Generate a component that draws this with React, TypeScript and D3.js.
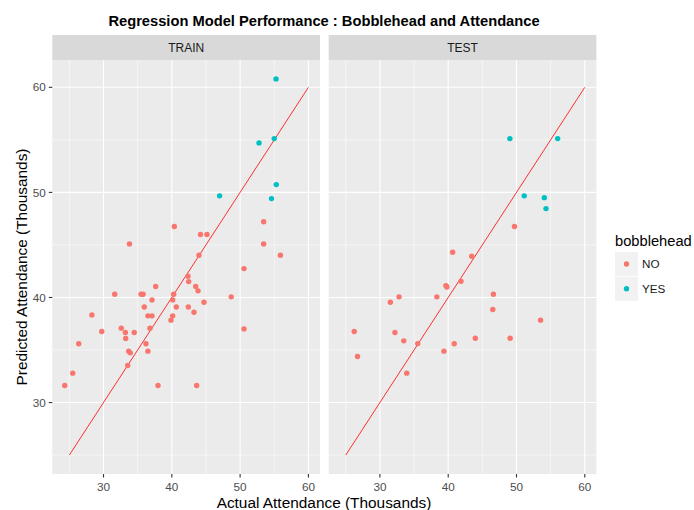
import React from 'react';
import * as d3 from 'd3';

// [actual, predicted] in thousands
const trainNo: [number, number][] = [
  [40.37, 46.75], [44.2, 46.0], [45.15, 46.0], [33.8, 45.1], [53.45, 47.2],
  [53.45, 45.1], [55.9, 44.02], [43.98, 44.02], [50.57, 42.75], [42.37, 42.03],
  [42.47, 41.51], [37.64, 41.04], [43.5, 41.04], [43.84, 40.63], [31.64, 40.31],
  [35.5, 40.31], [35.8, 40.31], [40.27, 40.31], [48.7, 40.06], [37.1, 39.77],
  [40.13, 39.77], [44.71, 39.55], [35.97, 39.1], [40.66, 39.1], [42.42, 39.1],
  [43.25, 38.6], [28.3, 38.34], [36.5, 38.25], [37.1, 38.25], [40.13, 38.25],
  [39.88, 37.84], [32.6, 37.08], [36.8, 37.08], [50.57, 37.01], [29.74, 36.76],
  [33.2, 36.66], [34.5, 36.66], [33.25, 36.09], [26.37, 35.59], [36.22, 35.59],
  [33.69, 34.89], [33.92, 34.73], [36.5, 34.89], [33.54, 33.52], [25.49, 32.8],
  [24.32, 31.62], [37.98, 31.62], [43.64, 31.62],
];
const trainYes: [number, number][] = [
  [55.26, 60.8], [52.77, 54.71], [55.0, 55.12], [55.3, 50.74], [47.0, 49.67], [54.6, 49.41],
];
const testNo: [number, number][] = [
  [49.7, 46.75], [40.65, 44.31], [43.44, 43.93], [41.87, 41.55], [39.66, 41.13],
  [39.8, 41.0], [46.62, 40.31], [31.53, 39.55], [32.8, 40.06], [38.34, 40.06],
  [46.53, 38.85], [53.53, 37.84], [26.24, 36.76], [32.2, 36.66], [33.49, 35.87],
  [35.54, 35.61], [40.88, 35.59], [43.97, 36.12], [49.07, 36.12], [39.37, 34.89],
  [26.72, 34.38], [33.93, 32.8],
];
const testYes: [number, number][] = [
  [49.03, 55.12], [56.03, 55.12], [51.13, 49.67], [54.07, 49.5], [54.32, 48.46],
];

const panels = [
  { name: 'TRAIN', no: trainNo, yes: trainYes },
  { name: 'TEST', no: testNo, yes: testYes },
];
const majorTicks = [30, 40, 50, 60];
const minorTicks = [25, 35, 45, 55];
const refLine: [number, number][] = [[25, 25], [60, 60]];
const legendItems = ['NO', 'YES'];

const colors = { NO: '#F8766D', YES: '#00BFC4' };
const font = '"Liberation Sans", Arial, sans-serif';

const W = 694, H = 510;
const panelW = 267.7;
const panelTop = 60, panelBottom = 474;
const panelLefts = [52.3, 328.7];

export default function App() {
  const x = d3.scaleLinear().domain([22.5, 61.7]).range([0, panelW]);
  const y = d3.scaleLinear().domain([23.2, 62.6]).range([panelBottom - panelTop, 0]);
  const line = d3.line<[number, number]>().x(d => x(d[0])).y(d => y(d[1]));
  const ph = panelBottom - panelTop;

  return (
    <svg width={W} height={H} style={{ position: 'absolute', left: 0, top: 0 }} fontFamily={font}>
      <rect width={W} height={H} fill="#fff" />
      <text x={324} y={26} textAnchor="middle" fontSize={14.7} fontWeight="bold" fill="#000">
        Regression Model Performance : Bobblehead and Attendance
      </text>

      {panels.map((p, i) => (
        <g key={p.name} transform={`translate(${panelLefts[i]},${panelTop})`}>
          <rect y={-25} width={panelW} height={25} fill="#D9D9D9" />
          <text x={panelW / 2} y={-8.5} textAnchor="middle" fontSize={12} fill="#1A1A1A">{p.name}</text>
          <rect width={panelW} height={ph} fill="#EBEBEB" />
          {minorTicks.map(t => (
            <g key={'m' + t}>
              <line x1={x(t)} x2={x(t)} y1={0} y2={ph} stroke="#fff" strokeWidth={0.55} />
              <line x1={0} x2={panelW} y1={y(t)} y2={y(t)} stroke="#fff" strokeWidth={0.55} />
            </g>
          ))}
          {majorTicks.map(t => (
            <g key={'M' + t}>
              <line x1={x(t)} x2={x(t)} y1={0} y2={ph} stroke="#fff" strokeWidth={1.1} />
              <line x1={0} x2={panelW} y1={y(t)} y2={y(t)} stroke="#fff" strokeWidth={1.1} />
            </g>
          ))}
          <path d={line(refLine) || ''} stroke="#FF0000" strokeWidth={0.8} fill="none" />
          {p.no.map((d, j) => (
            <circle key={'n' + j} cx={x(d[0])} cy={y(d[1])} r={2.7} fill={colors.NO} />
          ))}
          {p.yes.map((d, j) => (
            <circle key={'y' + j} cx={x(d[0])} cy={y(d[1])} r={2.7} fill={colors.YES} />
          ))}
          {/* x axis */}
          {majorTicks.map(t => (
            <g key={'xt' + t} transform={`translate(${x(t)},${ph})`}>
              <line y2={3.5} stroke="#333" strokeWidth={1.1} />
              <text y={16.8} textAnchor="middle" fontSize={11.7} fill="#4D4D4D">{t}</text>
            </g>
          ))}
          {/* y axis on the first panel only */}
          {i === 0 && majorTicks.map(t => (
            <g key={'yt' + t} transform={`translate(0,${y(t)})`}>
              <line x2={-3.5} stroke="#333" strokeWidth={1.1} />
              <text x={-6.5} dy="0.35em" textAnchor="end" fontSize={11.7} fill="#4D4D4D">{t}</text>
            </g>
          ))}
        </g>
      ))}

      <text x={324} y={508} textAnchor="middle" fontSize={15.4} fill="#000">Actual Attendance (Thousands)</text>
      <text transform={`translate(26.5,${(panelTop + panelBottom) / 2}) rotate(-90)`} textAnchor="middle" fontSize={15.4} fill="#000">
        Predicted Attendance (Thousands)
      </text>

      <g transform="translate(615,0)">
        <text x={0} y={246} fontSize={14.7} fill="#000">bobblehead</text>
        {legendItems.map((k, i) => (
          <g key={k} transform={`translate(0,${252 + i * 24.8})`}>
            <rect width={23} height={24} fill="#F2F2F2" />
            <circle cx={11.5} cy={12} r={2.7} fill={colors[k as 'NO' | 'YES']} />
            <text x={27} y={12} dy="0.35em" fontSize={11.7} fill="#1A1A1A">{k}</text>
          </g>
        ))}
      </g>
    </svg>
  );
}
